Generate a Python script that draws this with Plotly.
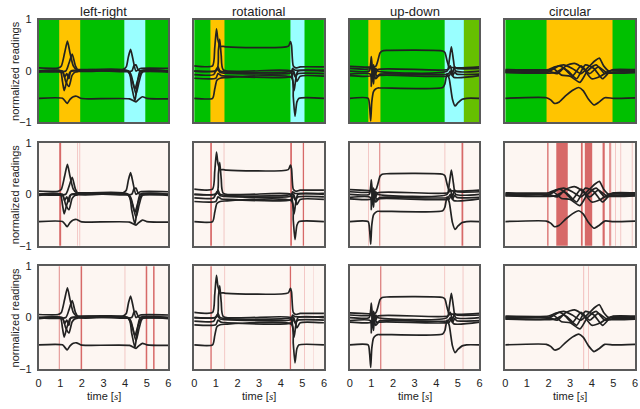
import plotly.graph_objects as go

# ---------------- data ----------------
gestures = ["left-right", "rotational", "up-down", "circular"]
x_ticks = [0, 1, 2, 3, 4, 5, 6]
y_ticks = [-1, 0, 1]
y_tick_labels = ["\u22121", "0", "1"]

# left-right traces (time [s], normalized reading)
lr_t1 = [0, 0.9, 1.05, 1.2, 1.33, 1.45, 1.6, 1.75, 2.0, 3.9, 4.05, 4.15, 4.25, 4.35, 4.5, 4.7, 6]
lr_y1 = [0.06, 0.06, 0.1, 0.35, 0.58, 0.35, 0.1, 0.03, 0.03, 0.03, 0.08, 0.28, 0.42, 0.25, 0.0, 0.05, 0.05]
lr_t2 = [0, 1.25, 1.4, 1.55, 1.7, 1.85, 4.1, 4.3, 4.45, 4.6, 4.8, 6]
lr_y2 = [0.0, 0.0, 0.15, 0.33, 0.1, 0.0, 0.0, -0.15, -0.35, -0.15, 0.0, 0.0]
lr_t3 = [0, 1.0, 1.1, 1.18, 1.3, 1.45, 1.6, 4.15, 4.3, 4.45, 4.55, 4.7, 6]
lr_y3 = [0.0, 0.0, -0.2, -0.38, -0.2, -0.02, 0.0, 0.0, -0.3, -0.58, -0.3, 0.0, 0.0]
lr_t4 = [0, 1.1, 1.25, 1.4, 1.55, 1.7, 4.2, 4.35, 4.5, 4.65, 4.8, 6]
lr_y4 = [-0.02, -0.02, -0.2, -0.3, -0.08, -0.02, -0.02, -0.2, -0.45, -0.2, -0.02, -0.02]
lr_t5 = [0, 1.1, 1.2, 1.3, 1.4, 1.5, 4.3, 4.4, 4.5, 4.6, 4.7, 6]
lr_y5 = [0.0, 0.0, -0.12, -0.05, -0.15, 0.0, 0.0, 0.1, 0.12, 0.02, 0.0, 0.0]
lr_t6 = [0, 1.1, 1.25, 1.32, 1.45, 1.6, 1.75, 1.95, 2.3, 4.2, 4.4, 4.5, 4.6, 4.8, 5.0, 6]
lr_y6 = [-0.53, -0.53, -0.6, -0.63, -0.55, -0.5, -0.49, -0.53, -0.54, -0.54, -0.58, -0.6, -0.56, -0.5, -0.53, -0.54]

# rotational traces
ro_t1 = [0, 0.85, 0.95, 1.03, 1.1, 1.2, 1.35, 1.5, 4.35, 4.45, 4.5, 4.58, 4.7, 4.9, 6]
ro_y1 = [0.1, 0.1, 0.45, 0.82, 0.6, 0.48, 0.48, 0.47, 0.48, 0.57, 0.5, 0.1, 0.06, 0.08, 0.08]
ro_t2 = [0, 1.05, 1.12, 1.18, 1.25, 1.35, 4.45, 4.55, 4.62, 4.7, 4.8, 6]
ro_y2 = [0.0, 0.02, 0.4, 0.62, 0.3, 0.02, 0.0, -0.15, -0.38, -0.15, 0.0, 0.0]
ro_t3 = [0, 0.85, 0.95, 1.05, 1.2, 1.4, 4.5, 4.58, 4.66, 4.75, 4.85, 6]
ro_y3 = [-0.53, -0.53, -0.35, -0.18, -0.14, -0.13, -0.13, -0.5, -0.88, -0.6, -0.53, -0.53]
ro_t4 = [0, 0.9, 1.05, 1.2, 1.4, 4.45, 4.55, 4.65, 4.8, 6]
ro_y4 = [-0.07, -0.07, 0.05, -0.03, -0.04, -0.04, 0.02, -0.1, -0.05, -0.05]
ro_t5 = [0, 1.0, 1.1, 1.25, 1.5, 4.5, 4.6, 4.75, 4.9, 6]
ro_y5 = [-0.14, -0.14, -0.05, -0.09, -0.1, -0.1, 0.0, -0.2, -0.1, -0.1]
ro_t6 = [0, 1.0, 1.1, 1.2, 4.5, 4.55, 4.65, 6]
ro_y6 = [0.0, 0.0, 0.08, 0.0, 0.0, 0.05, 0.02, 0.02]

# up-down traces
ud_t1 = [0, 1.2, 1.3, 1.4, 1.5, 1.7, 4.3, 4.4, 4.5, 4.6, 6]
ud_y1 = [0.09, 0.09, 0.2, 0.35, 0.39, 0.4, 0.39, 0.36, 0.2, 0.08, 0.08]
ud_t2 = [0, 0.85, 0.92, 0.97, 1.02, 1.1, 1.2, 1.3, 1.4, 1.6, 4.3, 4.4, 4.5, 4.6, 4.75, 4.87, 5.0, 5.2, 5.4, 6]
ud_y2 = [-0.53, -0.53, -0.7, -0.97, -0.6, -0.4, -0.35, -0.33, -0.33, -0.33, -0.32, -0.25, -0.05, -0.15, -0.55, -0.68, -0.62, -0.55, -0.53, -0.53]
ud_t3 = [0, 0.9, 0.97, 1.0, 1.05, 1.12, 1.2, 1.3, 4.5, 4.6, 4.7, 4.8, 4.9, 6]
ud_y3 = [0.0, 0.0, 0.15, 0.28, 0.0, -0.15, 0.05, 0.0, 0.0, 0.2, 0.47, 0.2, 0.0, 0.0]
ud_t4 = [0, 0.95, 1.0, 1.05, 1.1, 1.15, 1.25, 1.4, 4.55, 4.65, 4.75, 4.85, 4.95, 6]
ud_y4 = [-0.06, -0.06, -0.3, 0.05, -0.25, 0.0, -0.1, -0.06, -0.06, 0.0, -0.1, -0.02, -0.06, -0.06]
ud_t5 = [0, 0.95, 1.0, 1.05, 1.1, 1.2, 1.3, 4.55, 4.65, 4.75, 4.85, 4.95, 6]
ud_y5 = [0.05, 0.05, 0.2, -0.1, 0.12, -0.05, 0.03, 0.03, 0.1, -0.05, 0.08, 0.05, 0.05]
ud_t6 = [0, 1.0, 1.1, 1.2, 1.35, 4.6, 4.7, 4.8, 6]
ud_y6 = [-0.09, -0.09, 0.02, -0.15, -0.09, -0.09, 0.0, -0.12, -0.09]

# circular traces
ci_t1 = [0, 2.0, 2.3, 2.7, 3.1, 3.5, 3.9, 4.15, 4.35, 4.55, 4.8, 5.0, 6]
ci_y1 = [0.03, 0.03, 0.08, 0.12, 0.05, -0.05, 0.1, 0.2, 0.25, 0.1, 0.0, 0.03, 0.03]
ci_t2 = [0, 2.0, 2.4, 2.8, 3.2, 3.6, 4.0, 4.4, 4.8, 6]
ci_y2 = [0.0, 0.0, -0.05, 0.1, 0.15, 0.05, -0.15, -0.1, 0.0, 0.0]
ci_t3 = [0, 2.0, 2.2, 2.6, 3.0, 3.45, 3.8, 4.2, 4.6, 5.0, 6]
ci_y3 = [-0.02, -0.02, 0.05, -0.08, -0.1, -0.22, 0.0, 0.12, -0.05, -0.02, -0.02]
ci_t4 = [0, 2.1, 2.5, 2.9, 3.3, 3.7, 4.1, 4.5, 4.9, 6]
ci_y4 = [0.01, 0.01, 0.1, 0.0, -0.15, 0.12, 0.05, -0.15, 0.01, 0.01]
ci_t5 = [0, 2.3, 2.7, 3.1, 3.5, 3.9, 4.3, 4.7, 6]
ci_y5 = [-0.03, -0.03, 0.05, -0.1, 0.1, -0.05, 0.08, -0.03, -0.03]
ci_t6 = [0, 1.9, 2.1, 2.28, 2.5, 2.8, 3.1, 3.4, 3.6, 3.85, 4.1, 4.35, 4.6, 5.0, 6]
ci_y6 = [-0.53, -0.52, -0.56, -0.63, -0.6, -0.48, -0.38, -0.32, -0.38, -0.55, -0.66, -0.6, -0.52, -0.53, -0.52]

signals = [
    [(lr_t1, lr_y1), (lr_t2, lr_y2), (lr_t3, lr_y3), (lr_t4, lr_y4), (lr_t5, lr_y5), (lr_t6, lr_y6)],
    [(ro_t1, ro_y1), (ro_t2, ro_y2), (ro_t3, ro_y3), (ro_t4, ro_y4), (ro_t5, ro_y5), (ro_t6, ro_y6)],
    [(ud_t1, ud_y1), (ud_t2, ud_y2), (ud_t3, ud_y3), (ud_t4, ud_y4), (ud_t5, ud_y5), (ud_t6, ud_y6)],
    [(ci_t1, ci_y1), (ci_t2, ci_y2), (ci_t3, ci_y3), (ci_t4, ci_y4), (ci_t5, ci_y5), (ci_t6, ci_y6)],
]

# row 1: labelled segments (start, end, class)
seg_lr = [(0.95, 1.92, "orange"), (3.96, 4.93, "cyan")]
seg_ro = [(0.75, 1.40, "orange"), (4.45, 5.10, "cyan")]
seg_ud = [(0.86, 1.42, "orange"), (4.39, 5.28, "cyan"), (5.28, 6.0, "olive")]
seg_ci = [(1.91, 4.96, "orange")]
segments = [seg_lr, seg_ro, seg_ud, seg_ci]

# row 2: detections (start, end, strength)
det2_lr = [(0.95, 1.04, "s"), (1.78, 1.82, "p"), (1.88, 1.92, "p")]
det2_ro = [(0.74, 0.82, "s"), (1.36, 1.40, "p"), (4.44, 4.52, "s"), (5.02, 5.08, "s")]
det2_ud = [(0.85, 0.89, "p"), (1.37, 1.41, "s"), (4.38, 4.42, "p"), (5.17, 5.25, "s")]
det2_ci = [(1.94, 2.00, "s"), (2.36, 2.89, "s"), (3.50, 3.58, "s"), (3.68, 4.02, "s"),
           (4.50, 4.60, "s"), (4.80, 4.90, "m"), (5.08, 5.12, "p"), (5.32, 5.36, "p"), (5.85, 5.89, "p")]
det2 = [det2_lr, det2_ro, det2_ud, det2_ci]

# row 3: detections
det3_lr = [(0.93, 0.98, "m"), (1.94, 2.01, "s"), (3.97, 4.01, "p"), (4.95, 5.02, "s"), (5.29, 5.36, "s")]
det3_ro = [(0.75, 0.81, "s"), (1.39, 1.43, "p"), (4.42, 4.48, "s"), (5.08, 5.12, "p"), (5.50, 5.54, "vp")]
det3_ud = [(1.41, 1.46, "s"), (4.37, 4.41, "p"), (5.22, 5.26, "p")]
det3_ci = [(3.60, 3.65, "p"), (3.83, 3.87, "p")]
det3 = [det3_lr, det3_ro, det3_ud, det3_ci]

# ---------------- styles ----------------
W, H = 640, 409
col_px = [(36, 167), (193, 324), (350, 481), (507, 638)]
row_px = [(14, 120), (141, 247), (268, 374)]
seg_colors = {"orange": "#ffc400", "cyan": "#99ffff", "olive": "#66c000"}
green = "#00c000"
det_colors = {"s": "rgba(208,80,80,0.85)", "m": "rgba(214,96,96,0.65)",
              "p": "rgba(228,130,130,0.45)", "vp": "rgba(235,160,160,0.3)"}
light_bg = "#fdf6f2"
font_family = "Liberation Sans, Arial, sans-serif"
text_color = "#222222"

fig = go.Figure()
layout = {}
shapes = []
annotations = []

for r in range(3):
    for c in range(4):
        k = r * 4 + c + 1
        xa = "x" if k == 1 else f"x{k}"
        ya = "y" if k == 1 else f"y{k}"
        x0, x1 = col_px[c]
        ytop, ybot = row_px[r]
        layout["xaxis" if k == 1 else f"xaxis{k}"] = dict(
            domain=[x0 / W, x1 / W], anchor=ya, range=[0, 6],
            tickvals=x_ticks, showticklabels=(r == 2),
            ticks="outside", ticklen=3, tickcolor="rgba(0,0,0,0)",
            showgrid=False, zeroline=False, showline=True, mirror=True,
            linecolor="#5a5a5a", linewidth=1.5,
            tickfont=dict(size=11, color=text_color, family=font_family),
        )
        layout["yaxis" if k == 1 else f"yaxis{k}"] = dict(
            domain=[1 - ybot / H, 1 - ytop / H], anchor=xa, range=[-1, 1],
            tickvals=y_ticks, ticktext=y_tick_labels, showticklabels=(c == 0),
            ticks="outside", ticklen=3, tickcolor="rgba(0,0,0,0)",
            showgrid=False, zeroline=False, showline=True, mirror=True,
            linecolor="#5a5a5a", linewidth=1.5,
            tickfont=dict(size=11, color=text_color, family=font_family),
        )
        # backgrounds
        if r == 0:
            shapes.append(dict(type="rect", xref=xa, yref=f"{ya} domain", x0=0, x1=6, y0=0, y1=1,
                               fillcolor=green, line=dict(width=0), layer="below"))
            for (s0, s1, cls) in segments[c]:
                shapes.append(dict(type="rect", xref=xa, yref=f"{ya} domain", x0=s0, x1=s1, y0=0, y1=1,
                                   fillcolor=seg_colors[cls], line=dict(width=0), layer="below"))
        else:
            dets = det2[c] if r == 1 else det3[c]
            for (s0, s1, cls) in dets:
                shapes.append(dict(type="rect", xref=xa, yref=f"{ya} domain", x0=s0, x1=s1, y0=0, y1=1,
                                   fillcolor=det_colors[cls], line=dict(width=0), layer="below"))
        # traces
        for (tt, yy) in signals[c]:
            fig.add_trace(go.Scatter(x=tt, y=yy, mode="lines", xaxis=xa, yaxis=ya,
                                     line=dict(color="#222222", width=1.7, shape="spline", smoothing=0.6),
                                     showlegend=False, hoverinfo="skip"))
        if c == 0:
            annotations.append(dict(text="normalized readings", xref="paper", yref="paper",
                                    x=12 / W, y=1 - (ytop + ybot) / 2 / H, textangle=-90,
                                    showarrow=False, xanchor="center", yanchor="middle",
                                    font=dict(size=11, color=text_color, family=font_family)))
        if r == 2:
            annotations.append(dict(text='time [<span style="font-family:Liberation Serif"><i>s</i></span>]',
                                    xref="paper", yref="paper",
                                    x=(x0 + x1) / 2 / W, y=1 - 402 / H, showarrow=False,
                                    xanchor="center", yanchor="middle",
                                    font=dict(size=11, color=text_color, family=font_family)))
        if r == 0:
            annotations.append(dict(text=gestures[c], xref="paper", yref="paper",
                                    x=(x0 + x1) / 2 / W, y=1 - 6 / H, showarrow=False,
                                    xanchor="center", yanchor="middle",
                                    font=dict(size=13, color=text_color, family=font_family)))

fig.update_layout(
    width=W, height=H, margin=dict(l=0, r=0, t=0, b=0),
    paper_bgcolor="white", plot_bgcolor=light_bg,
    shapes=shapes, annotations=annotations, showlegend=False,
    **layout,
)
fig.write_html("out.html", config={"displayModeBar": False},
               post_script="document.body.style.margin='0';document.body.style.overflow='hidden';")
